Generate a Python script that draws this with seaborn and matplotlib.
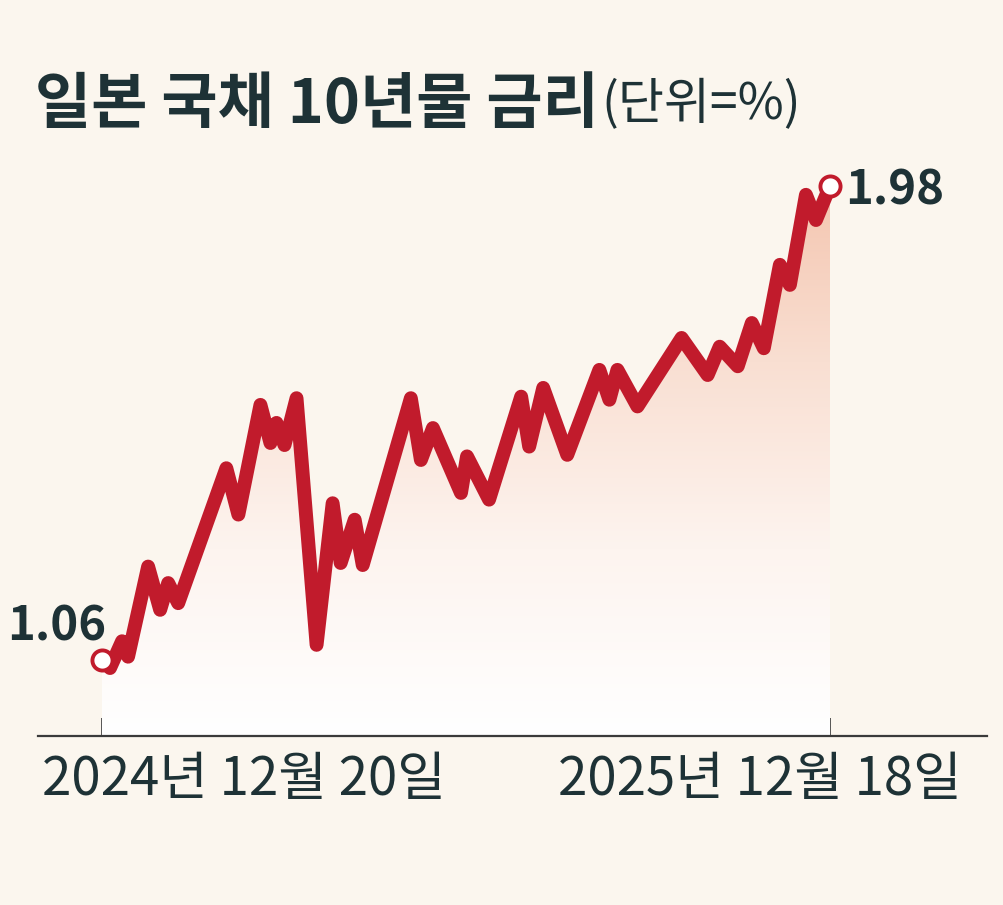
import matplotlib
matplotlib.use("Agg")
import matplotlib.pyplot as plt
import matplotlib.dates as mdates
from matplotlib import font_manager
from matplotlib.colors import LinearSegmentedColormap
import numpy as np
import pandas as pd
import seaborn as sns

# ---------------- data ----------------
dates = [
    "2024-12-20", "2024-12-24", "2024-12-30", "2025-01-02", "2025-01-12",
    "2025-01-18", "2025-01-22", "2025-01-27", "2025-02-20", "2025-02-26",
    "2025-03-09", "2025-03-14", "2025-03-17", "2025-03-21", "2025-03-27",
    "2025-04-06", "2025-04-14", "2025-04-18", "2025-04-25", "2025-04-29",
    "2025-05-23", "2025-05-28", "2025-06-03", "2025-06-17", "2025-06-20",
    "2025-07-01", "2025-07-17", "2025-07-21", "2025-07-28", "2025-08-09",
    "2025-08-25", "2025-08-30", "2025-09-03", "2025-09-13", "2025-10-05",
    "2025-10-18", "2025-10-24", "2025-11-02", "2025-11-09", "2025-11-15",
    "2025-11-23", "2025-11-28", "2025-12-06", "2025-12-11", "2025-12-18",
]
yields = [
    1.06, 1.044, 1.096, 1.066, 1.241,
    1.157, 1.209, 1.170, 1.432, 1.342,
    1.555, 1.481, 1.520, 1.477, 1.568,
    1.089, 1.364, 1.248, 1.332, 1.244,
    1.568, 1.448, 1.510, 1.384, 1.455,
    1.371, 1.571, 1.474, 1.588, 1.458,
    1.623, 1.565, 1.623, 1.552, 1.685,
    1.613, 1.668, 1.630, 1.714, 1.665,
    1.827, 1.788, 1.963, 1.914, 1.98,
]
start_label = "2024년 12월 20일"
end_label = "2025년 12월 18일"
title_main = "일본 국채 10년물 금리"
title_unit = "(단위=%)"
first_value_text = "1.06"
last_value_text = "1.98"

# ---------------- style ----------------
sns.set_theme(style="white")
plt.rcParams["font.family"] = ["Noto Sans CJK KR", "DejaVu Sans"]

BG = "#FBF6EE"
RED = "#C11B2C"
INK = "#1E3236"

available = {f.name for f in font_manager.fontManager.ttflist}
if "Liberation Sans Narrow" in available:
    num_font = ["Liberation Sans Narrow", "DejaVu Sans"]
    num_size = 40
else:
    num_font = ["Noto Sans CJK KR", "DejaVu Sans"]
    num_size = 34

df = pd.DataFrame({"date": pd.to_datetime(dates), "yield": yields})

W, H = 1004, 905
fig = plt.figure(figsize=(W / 100, H / 100), dpi=100, facecolor=BG)
ax = fig.add_axes([38 / W, 1 - 736 / H, (987 - 38) / W, (736 - 150) / H])
ax.set_facecolor(BG)

d0, d1 = df["date"].iloc[0], df["date"].iloc[-1]
span = (d1 - d0).days
px_per_day = (830 - 102) / span
xlim_l = d0 - pd.Timedelta(days=(102 - 38) / px_per_day)
xlim_r = d1 + pd.Timedelta(days=(987 - 830) / px_per_day)
y_lo, y_hi = 0.912, 2.050

# gradient fill under the line
poly = ax.fill_between(df["date"], df["yield"], y_lo, facecolor="none",
                       edgecolor="none", zorder=1)
xn = mdates.date2num(df["date"])
grad = np.linspace(0, 1, 256).reshape(-1, 1)
cmap = LinearSegmentedColormap.from_list(
    "g", ["#FFFFFF", "#FDF4EF", "#F9DFD2", "#F4C4AE"])
im = ax.imshow(grad, extent=[xn[0], xn[-1], y_lo, 2.0], origin="lower",
               aspect="auto", cmap=cmap, zorder=1, interpolation="bilinear")
im.set_clip_path(poly.get_paths()[0], transform=ax.transData)

# line
sns.lineplot(data=df, x="date", y="yield", color=RED, lw=10, ax=ax,
             zorder=3, solid_joinstyle="round", solid_capstyle="round",
             sort=False)
# end markers
ends = df.iloc[[0, -1]]
sns.scatterplot(data=ends, x="date", y="yield", s=210, color="white",
                edgecolor=RED, linewidth=2.8, ax=ax, zorder=4)

ax.set_xlim(xlim_l, xlim_r)
ax.set_ylim(y_lo, y_hi)
for s in ["top", "left", "right"]:
    ax.spines[s].set_visible(False)
ax.spines["bottom"].set_color("#3A3A3A")
ax.spines["bottom"].set_linewidth(1.6)
ax.set_xticks([d0, d1])
ax.set_xticklabels(["", ""])
ax.set_yticks([])
ax.tick_params(axis="x", direction="in", length=13, width=1.2,
               color="#3A3A3A", bottom=True)
ax.set_xlabel("")
ax.set_ylabel("")
ax.grid(False)

# value labels
ax.annotate(first_value_text, xy=(d0, yields[0]), xytext=(3, 14),
            textcoords="offset points", ha="right", va="baseline",
            fontsize=num_size, fontweight="bold", color=INK, family=num_font,
            zorder=5)
ax.annotate(last_value_text, xy=(d1, yields[-1]), xytext=(11, -13),
            textcoords="offset points", ha="left", va="baseline",
            fontsize=num_size, fontweight="bold", color=INK, family=num_font,
            zorder=5)

# date labels
fig.text(42 / W, 1 - 752 / H, start_label, ha="left", va="top",
         fontsize=38, color=INK)
fig.text(558 / W, 1 - 752 / H, end_label, ha="left", va="top",
         fontsize=38, color=INK)

# title
t1 = fig.text(35 / W, 1 - 105 / H, title_main, ha="left", va="center",
              fontsize=44, fontweight="bold", color=INK)
fig.canvas.draw()
bb = t1.get_window_extent(renderer=fig.canvas.get_renderer())
fig.text(bb.x1 / W + 2 / W, 1 - 105 / H, title_unit, ha="left", va="center",
         fontsize=36, fontweight="normal", color=INK)

fig.savefig("out.png", dpi=100, facecolor=BG)
